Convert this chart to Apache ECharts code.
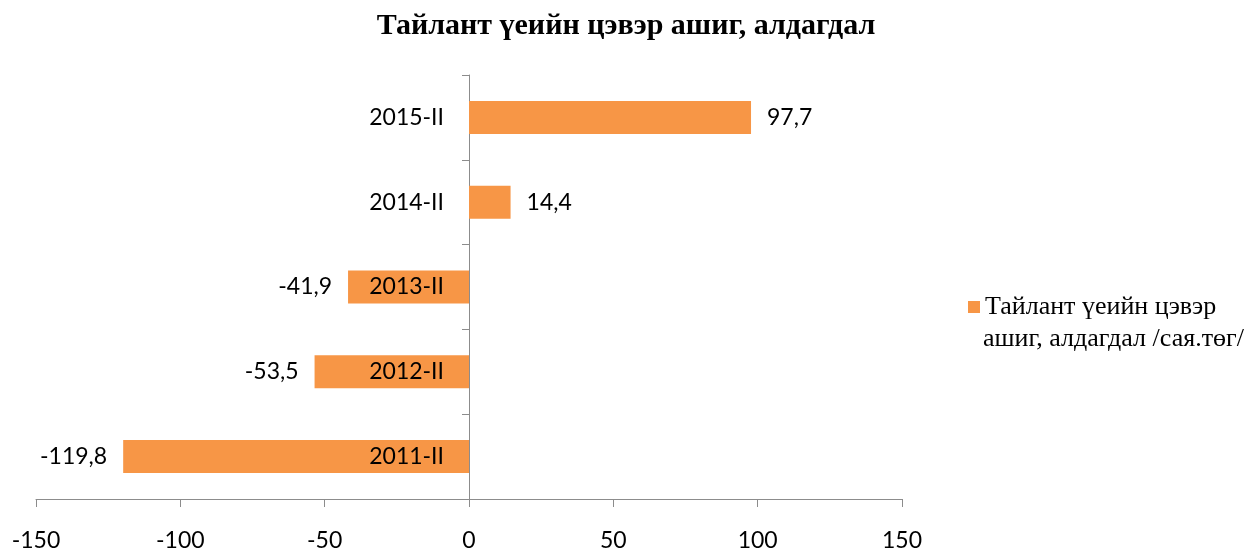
<!DOCTYPE html>
<html>
<head>
<meta charset="utf-8">
<script src="https://cdn.jsdelivr.net/npm/echarts@6/dist/echarts.min.js"></script>
<style>html,body{margin:0;padding:0;background:#fff}#c{width:1256px;height:552px}</style>
</head>
<body>
<div id="c"></div>
<script>
var title = 'Тайлант үеийн цэвэр ашиг, алдагдал';
var seriesName = 'Тайлант үеийн цэвэр ашиг, алдагдал /сая.төг/';
var legendLine1 = 'Тайлант үеийн цэвэр';
var legendLine2 = 'ашиг, алдагдал /сая.төг/';
var categories = ['2011-II', '2012-II', '2013-II', '2014-II', '2015-II'];
var values = [-119.8, -53.5, -41.9, 14.4, 97.7];
var xTicks = [-150, -100, -50, 0, 50, 100, 150];

var sansFont = 'Lato';
var serifFont = '"Liberation Serif", "Times New Roman", serif';

var chart = echarts.init(document.getElementById('c'));
chart.setOption({
  animation: false,
  title: [{
    text: title,
    left: 621, top: 6, textAlign: 'center',
    textStyle: { fontFamily: serifFont, fontWeight: 'bold', fontSize: 30, color: '#000' }
  }, {
    text: legendLine2,
    left: 978, top: 321,
    textStyle: { fontFamily: serifFont, fontWeight: 'normal', fontSize: 26, color: '#000' }
  }],
  legend: {
    data: [seriesName],
    orient: 'vertical',
    left: 963, top: 289,
    itemWidth: 12, itemHeight: 12, itemGap: 8,
    icon: 'rect',
    formatter: function () { return legendLine1; },
    textStyle: { fontFamily: serifFont, fontSize: 26, color: '#000' }
  },
  grid: { left: 36, right: 354, top: 75, bottom: 53, containLabel: false, outerBoundsMode: 'none' },
  xAxis: {
    type: 'value', min: xTicks[0], max: xTicks[xTicks.length - 1], interval: 50,
    splitLine: { show: false },
    axisLine: { show: true, lineStyle: { color: '#8c8c8c', width: 1 } },
    axisTick: { show: true, length: 8, lineStyle: { color: '#8c8c8c' } },
    axisLabel: { fontFamily: sansFont, fontSize: 23, color: '#000', margin: 30 }
  },
  yAxis: {
    type: 'category', data: categories,
    axisLine: { show: true, onZero: true, lineStyle: { color: '#8c8c8c', width: 1 } },
    axisTick: { show: true, length: 7, lineStyle: { color: '#8c8c8c' } },
    axisLabel: { show: false }
  },
  series: [{
    name: seriesName,
    type: 'bar',
    data: values.map(function (v) {
      return { value: v, label: { position: v < 0 ? 'left' : 'right' } };
    }),
    barWidth: 33,
    itemStyle: { color: '#F79646' },
    label: {
      show: true, distance: 16,
      fontFamily: sansFont, fontSize: 23, color: '#000',
      formatter: function (p) { return String(p.value).replace('.', ','); }
    }
  }, {
    name: 'categoryLabels',
    type: 'scatter',
    z: 10,
    symbolSize: 0,
    silent: true,
    itemStyle: { opacity: 1 },
    data: categories.map(function (c) { return [0, c]; }),
    label: {
      show: true, position: 'left', distance: 25, opacity: 1,
      fontFamily: sansFont, fontSize: 23, color: '#000',
      formatter: function (p) { return p.value[1]; }
    }
  }]
});
</script>
</body>
</html>
